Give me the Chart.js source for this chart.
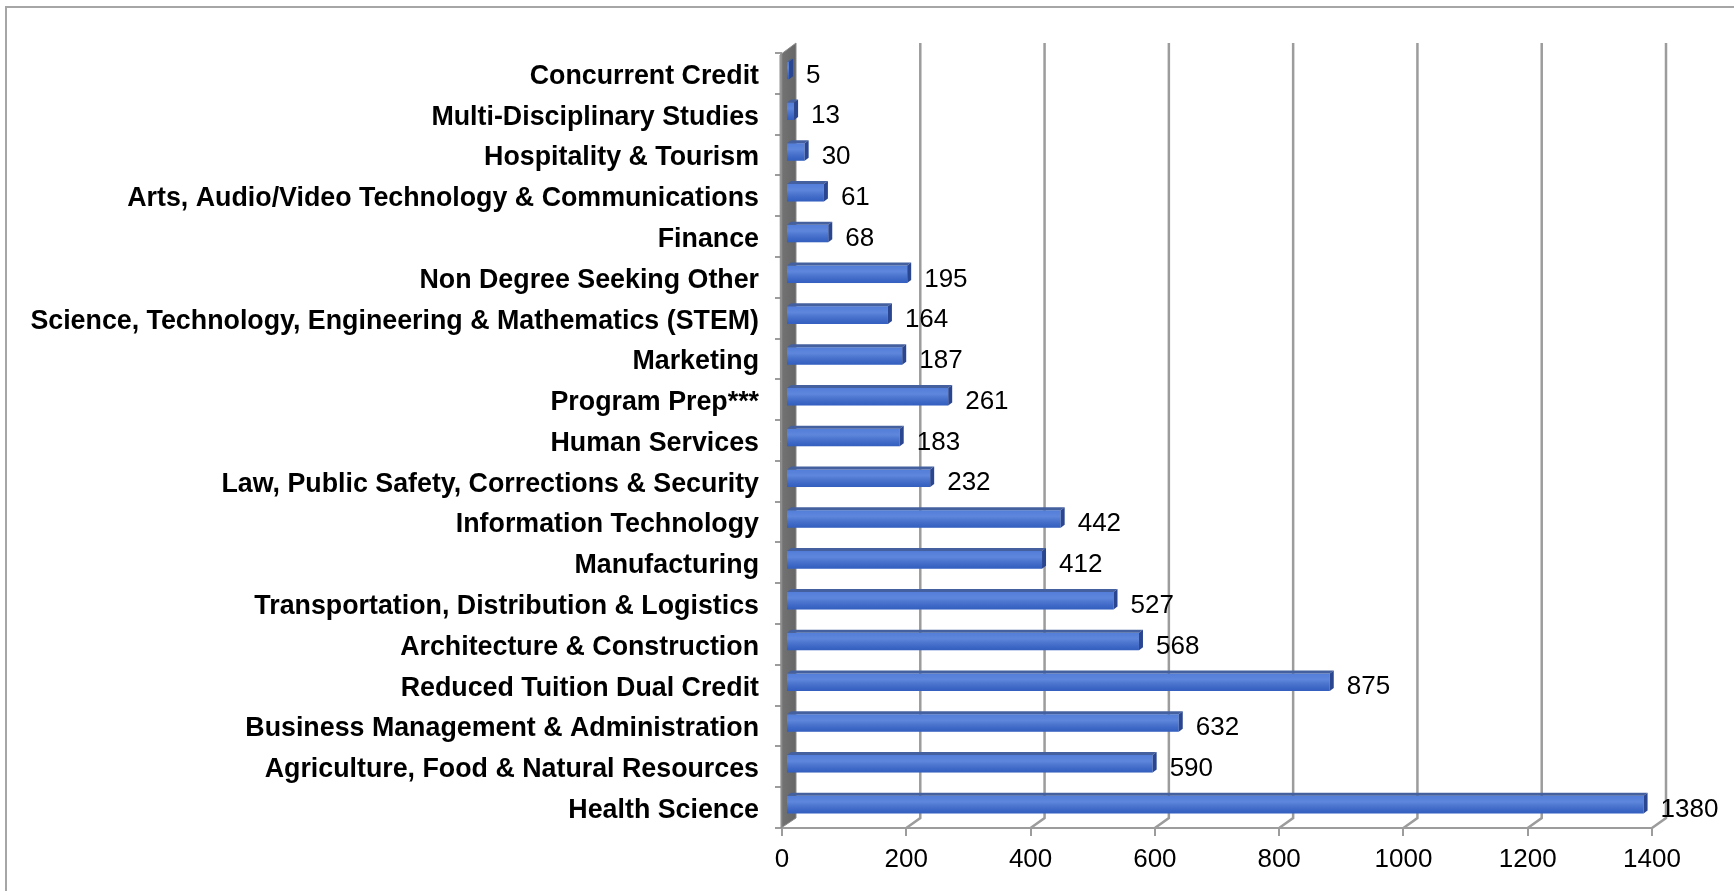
<!DOCTYPE html>
<html>
<head>
<meta charset="utf-8">
<script src="https://cdn.jsdelivr.net/npm/chart.js@4/dist/chart.umd.min.js"></script>
<style>
  body { margin: 0; background: #fff; }
  #moldura { position: absolute; left: 5px; top: 6px; width: 1800px; height: 1000px;
             border-left: 2px solid #a6a6a6; border-top: 2px solid #a6a6a6; }
  #grafico { position: absolute; left: 0; top: 0; }
</style>
</head>
<body>
<div id="moldura"></div>
<canvas id="grafico" width="1734" height="891"></canvas>
<script>
const categorias = [
  "Concurrent Credit",
  "Multi-Disciplinary Studies",
  "Hospitality & Tourism",
  "Arts, Audio/Video Technology & Communications",
  "Finance",
  "Non Degree Seeking Other",
  "Science, Technology, Engineering & Mathematics (STEM)",
  "Marketing",
  "Program Prep***",
  "Human Services",
  "Law, Public Safety, Corrections & Security",
  "Information Technology",
  "Manufacturing",
  "Transportation, Distribution & Logistics",
  "Architecture & Construction",
  "Reduced Tuition Dual Credit",
  "Business Management & Administration",
  "Agriculture, Food & Natural Resources",
  "Health Science"
];
const valores = [5, 13, 30, 61, 68, 195, 164, 187, 261, 183, 232, 442, 412, 527, 568, 875, 632, 590, 1380];
const rotulosX = [0, 200, 400, 600, 800, 1000, 1200, 1400];

Chart.defaults.font.family = '"Liberation Sans", Arial, sans-serif';

// fake 3D: back grid lines, side wall, bar faces and value labels
const profundidade = {
  id: 'profundidade',
  beforeDatasetsDraw(chart) {
    const ctx = chart.ctx, x = chart.scales.x, a = chart.chartArea;
    ctx.save();
    ctx.strokeStyle = '#9c9c9c';
    ctx.lineWidth = 2.5;
    rotulosX.forEach(v => {
      if (v === 0) return;
      const px = x.getPixelForValue(v);
      ctx.beginPath();
      ctx.moveTo(px, a.bottom);
      ctx.lineTo(px + 14, a.bottom - 10);
      ctx.lineTo(px + 14, a.top - 10);
      ctx.stroke();
    });
    // wall
    const g = ctx.createLinearGradient(a.left - 2, 0, a.left + 14, 0);
    g.addColorStop(0, '#b0b0b0');
    g.addColorStop(0.18, '#727272');
    g.addColorStop(1, '#666666');
    ctx.fillStyle = g;
    ctx.beginPath();
    ctx.moveTo(a.left - 2, a.top + 2);
    ctx.lineTo(a.left + 14, a.top - 10);
    ctx.lineTo(a.left + 14, a.bottom - 10);
    ctx.lineTo(a.left - 1, a.bottom);
    ctx.closePath();
    ctx.fill();
    ctx.strokeStyle = '#8a8a8a';
    ctx.lineWidth = 1;
    ctx.stroke();
    ctx.restore();
    ctx.save();
    ctx.translate(4, -3);
  },
  afterDatasetsDraw(chart) {
    const ctx = chart.ctx;
    ctx.restore();
    const meta = chart.getDatasetMeta(0);
    ctx.save();
    ctx.translate(4, -3);
    meta.data.forEach(bar => {
      const p = bar.getProps(['x', 'y', 'base', 'height'], true);
      const t = p.y - p.height / 2, b = p.y + p.height / 2;
      const brilho = ctx.createLinearGradient(0, t, 0, b);
      brilho.addColorStop(0, 'rgba(255,255,255,0.12)');
      brilho.addColorStop(0.35, 'rgba(255,255,255,0.18)');
      brilho.addColorStop(1, 'rgba(0,0,40,0.12)');
      ctx.fillStyle = brilho;
      ctx.fillRect(p.base, t, p.x - p.base, p.height);
      // top face
      ctx.fillStyle = '#45609e';
      ctx.beginPath();
      ctx.moveTo(p.base, t);
      ctx.lineTo(p.x, t);
      ctx.lineTo(p.x + 4, t - 3);
      ctx.lineTo(p.base + 4, t - 3);
      ctx.closePath();
      ctx.fill();
      // end face
      ctx.fillStyle = '#2a4690';
      ctx.beginPath();
      ctx.moveTo(p.x, t);
      ctx.lineTo(p.x + 4, t - 3);
      ctx.lineTo(p.x + 4, b - 3);
      ctx.lineTo(p.x, b);
      ctx.closePath();
      ctx.fill();
    });
    ctx.restore();
    ctx.save();
    ctx.font = '26px "Liberation Sans", Arial, sans-serif';
    ctx.fillStyle = '#000';
    ctx.textBaseline = 'middle';
    ctx.textAlign = 'left';
    meta.data.forEach((bar, i) => {
      ctx.fillText(valores[i], bar.x + 21, bar.y + 2);
    });
    ctx.restore();
  }
};

new Chart(document.getElementById('grafico').getContext('2d'), {
  type: 'bar',
  data: {
    labels: categorias,
    datasets: [{
      data: valores,
      backgroundColor: '#3b6cd4',
      borderWidth: 0,
      barPercentage: 0.43,
      categoryPercentage: 1,
      clip: false
    }]
  },
  options: {
    indexAxis: 'y',
    responsive: false,
    animation: false,
    layout: { padding: { left: 6, top: 53, right: 82, bottom: 0 } },
    plugins: { legend: { display: false }, tooltip: { enabled: false } },
    scales: {
      x: {
        min: rotulosX[0],
        max: rotulosX[rotulosX.length - 1],
        ticks: {
          stepSize: rotulosX[1] - rotulosX[0], color: '#000', font: { size: 26 }, padding: 8,
          callback: v => String(v)
        },
        grid: { drawOnChartArea: false, tickLength: 8, color: '#9c9c9c', lineWidth: 2 },
        border: { color: '#9c9c9c', width: 2 },
        afterFit(s) { s.height = 63; }
      },
      y: {
        ticks: { color: '#000', font: { size: 26.8, weight: 'bold' }, padding: 16, autoSkip: false, labelOffset: 3 },
        grid: { offset: true, drawOnChartArea: false, tickLength: 7, color: '#9c9c9c', lineWidth: 2 },
        border: { display: false },
        afterFit(s) { s.width = 776; }
      }
    }
  },
  plugins: [profundidade]
});
</script>
</body>
</html>
